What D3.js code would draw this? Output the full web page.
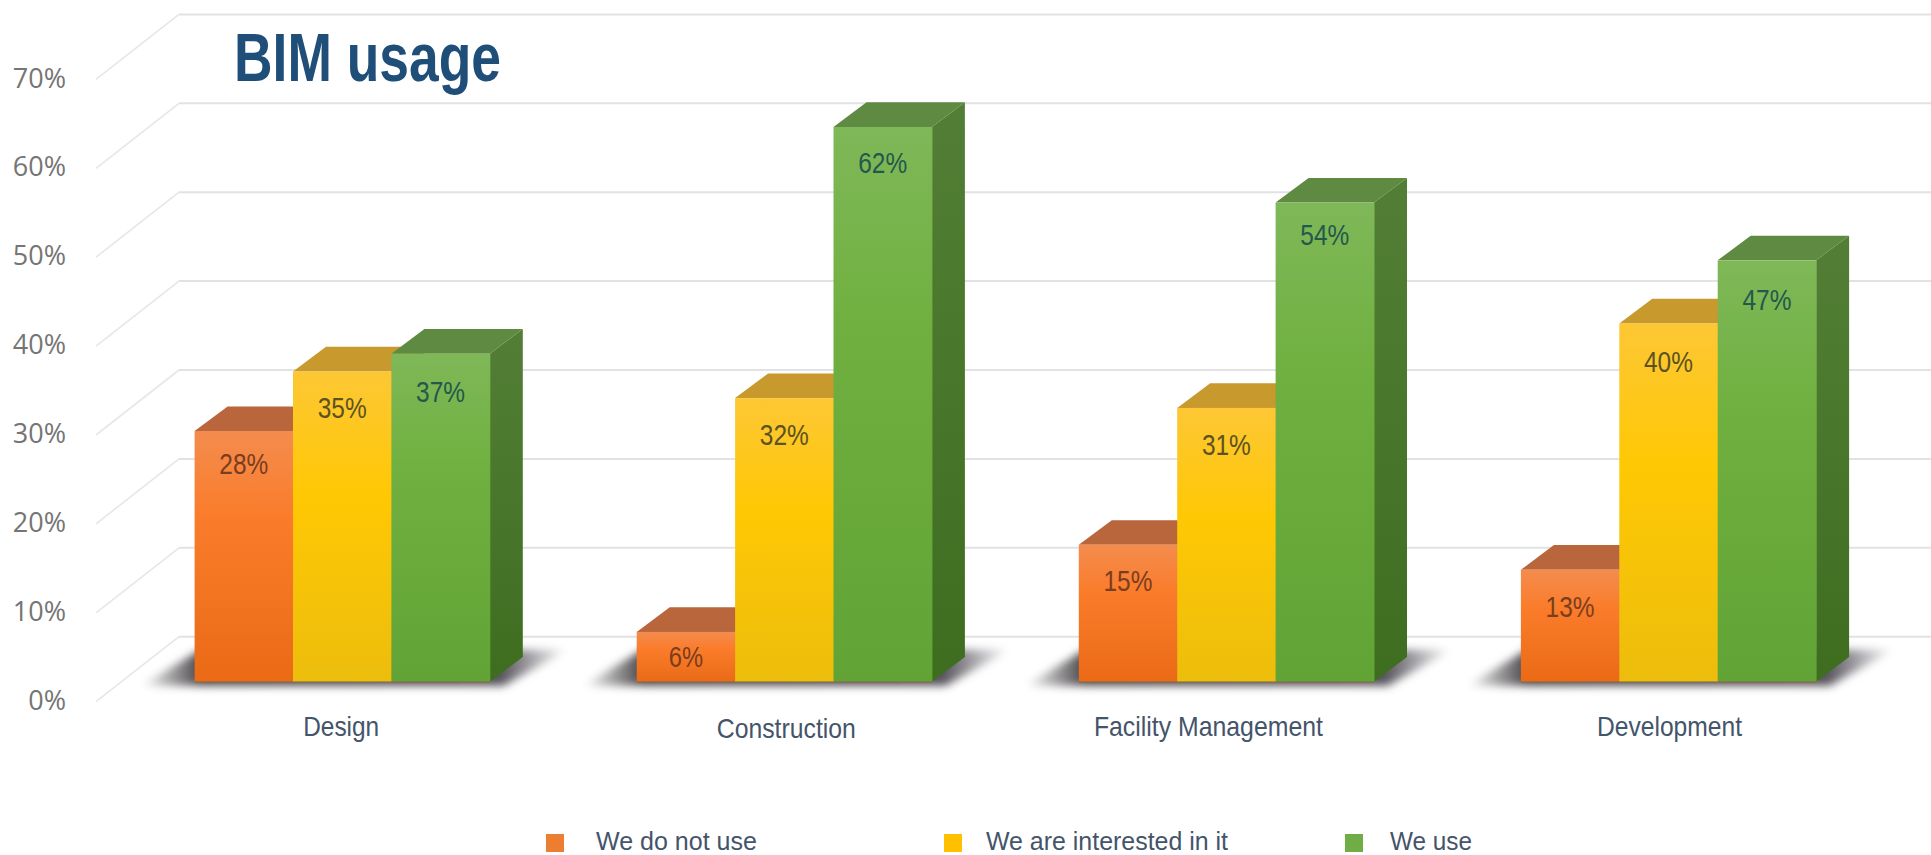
<!DOCTYPE html>
<html><head><meta charset="utf-8">
<script src="https://cdn.jsdelivr.net/npm/d3@7/dist/d3.min.js"></script>
<style>html,body{margin:0;padding:0;background:#fff;overflow:hidden}svg{display:block}</style>
</head><body><svg id="c" width="1931" height="855"></svg>
<script>
const titleText = "BIM usage";
const categories = ["Design","Construction","Facility Management","Development"];
const seriesNames = ["We do not use","We are interested in it","We use"];
const doNotUse = [28.2,5.6,15.4,12.6];
const interested = [34.9,31.9,30.8,40.3];
const weUse = [36.9,62.4,53.9,47.4];
const yTicks = [0,10,20,30,40,50,60,70];

const seriesValues = [doNotUse,interested,weUse];
const NARROW = "'Liberation Sans Narrow','Liberation Sans',sans-serif";
const SANS = "'Open Sans','Liberation Sans',sans-serif";
const svg = d3.select("#c");
const defs = svg.append("defs");

const base = 681.7, unit = 8.89, depthX = 33, depthY = 24.6;
const y = d3.scaleLinear().domain([0,70]).range([base, base-70*unit]);
const wallShift = 45, tickShift = 20, wallX = 179, slantX = 96;
const step = 442.1, bw = 295.2, pad = 1-bw/step;
const x0 = d3.scaleBand().domain(categories).range([194.6-pad*step/2, 194.6-pad*step/2+4*step]).paddingInner(pad).paddingOuter(pad/2);
const x1 = d3.scaleBand().domain(d3.range(3)).range([0,x0.bandwidth()]);

// colour ramps
const frontStops = [
 [["0","#f48c4e"],["0.35","#fa7c2a"],["1","#ea6a16"]],
 [["0","#fdc735"],["0.4","#ffc804"],["1","#ecbd0c"]],
 [["0","#7fb858"],["0.35","#70b040"],["1","#61a335"]]];
const topFill = ["#b9663c","#c8992c","#5e8a42"];
const sideStops = [[["0","#a9521f"],["1","#a9521f"]],[["0","#b88e14"],["1","#b88e14"]],[["0","#527f35"],["1","#3e6d20"]]];
function grad(id,stops){
  const g = defs.append("linearGradient").attr("id",id).attr("x1",0).attr("y1",0).attr("x2",0).attr("y2",1);
  stops.forEach(s=>g.append("stop").attr("offset",s[0]).attr("stop-color",s[1]));
}
frontStops.forEach((s,i)=>grad("front"+i,s));
sideStops.forEach((s,i)=>grad("side"+i,s));
const sg = defs.append("linearGradient").attr("id","shadowGrad").attr("x1",0).attr("x2",1).attr("y1",0).attr("y2",0);
[["0","#fff"],["0.14","#4a474a"],["0.84","#55525a"],["1","#fff"]].forEach(s=>sg.append("stop").attr("offset",s[0]).attr("stop-color",s[1]));
defs.append("filter").attr("id","blur").attr("x","-5%").attr("y","-30%").attr("width","110%").attr("height","160%")
  .append("feGaussianBlur").attr("stdDeviation",4);

// wall grid and slanted floor/side lines
const grid = svg.append("g");
grid.selectAll("line.h").data(yTicks).join("line").attr("class","h")
  .attr("x1",wallX).attr("x2",1931)
  .attr("y1",d=>y(d)-wallShift).attr("y2",d=>y(d)-wallShift)
  .attr("stroke","#e1e2e4").attr("stroke-width",2);
grid.selectAll("line.s").data(yTicks).join("line").attr("class","s")
  .attr("x1",slantX).attr("x2",wallX)
  .attr("y1",d=>y(d)+tickShift).attr("y2",d=>y(d)-wallShift)
  .attr("stroke","#e6e7e9").attr("stroke-width",1.6);

// y axis
const yAxis = svg.append("g").attr("transform",`translate(66,${tickShift-1})`)
  .call(d3.axisLeft(y).tickValues(yTicks).tickFormat(d=>d+"%").tickSize(0).tickPadding(0));
yAxis.select(".domain").remove();
yAxis.selectAll("text").attr("font-family",SANS).attr("font-size",27).attr("fill","#757575");

// groups
const groups = svg.selectAll("g.grp").data(categories).join("g").attr("class","grp")
  .attr("transform",d=>`translate(${x0(d)},0)`);
// floor shadows
groups.append("path")
  .attr("d",()=>{const b=x0.bandwidth();return `M-54,${base+4}L6,${base-32}H${b+78}L${b+14},${base+4}Z`;})
  .attr("fill","url(#shadowGrad)").attr("filter","url(#blur)");

const bars = groups.selectAll("g.bar").data((c,ci)=>seriesValues.map((v,si)=>({si,ci,v:v[ci]}))).join("g").attr("class","bar");
const w = x1.bandwidth();
bars.append("path").attr("fill",d=>topFill[d.si])
  .attr("d",d=>{const X=x1(d.si),T=y(d.v);return `M${X},${T}L${X+depthX},${T-depthY}H${X+w+depthX}L${X+w},${T}Z`;});
bars.append("path").attr("fill",d=>`url(#side${d.si})`)
  .attr("d",d=>{const X=x1(d.si)+w,T=y(d.v);return `M${X},${T}L${X+depthX},${T-depthY}V${base-depthY}L${X},${base}Z`;});
bars.append("rect").attr("x",d=>x1(d.si)).attr("width",w+0.5).attr("y",d=>y(d.v)).attr("height",d=>base-y(d.v))
  .attr("fill",d=>`url(#front${d.si})`);
groups.append("line").attr("x1",0).attr("x2",x0.bandwidth()).attr("y1",base+0.5).attr("y2",base+0.5)
  .attr("stroke","#8a6a45").attr("stroke-width",1.5).attr("opacity",0.7);

// data labels
const labelColor = ["#7b3d1e","#5c5222","#24584c"];
const labelDrop = [[33,25,36,37],[37,37,37,39],[38,36,32,40]];
const labelWide = 49;
bars.append("text").attr("text-anchor","middle")
  .attr("x",d=>x1(d.si)+w/2)
  .attr("y",d=>y(d.v)+labelDrop[d.si][d.ci]+10)
  .attr("font-family",NARROW).attr("font-size",29).attr("fill",d=>labelColor[d.si])
  .attr("textLength",d=>Math.round(d.v)<10?labelWide*0.7:labelWide).attr("lengthAdjust","spacingAndGlyphs")
  .text(d=>Math.round(d.v)+"%");

// category axis
const labelWidth = [76,139,229,145], labelNudgeX = [-1,2,-18,1], labelNudgeY = [0,2,0,0];
const xAxis = svg.append("g").attr("transform",`translate(0,${base})`)
  .call(d3.axisBottom(x0).tickSize(0).tickPadding(0));
xAxis.select(".domain").remove();
xAxis.selectAll("text").attr("font-family",NARROW).attr("font-size",28).attr("fill","#44546a")
  .attr("dy",0)
  .attr("x",(d,i)=>labelNudgeX[i])
  .attr("y",(d,i)=>54+labelNudgeY[i])
  .attr("textLength",(d,i)=>labelWidth[i]).attr("lengthAdjust","spacingAndGlyphs");

// title
svg.append("text").attr("x",234).attr("y",81).text(titleText)
  .attr("font-family",NARROW).attr("font-weight",700).attr("font-size",68).attr("fill","#1f4e79")
  .attr("textLength",267).attr("lengthAdjust","spacingAndGlyphs");

// legend
const legendSwatchX = [546,944,1345], legendTextX = [596,986,1390], legendTextW = [161,242,82];
const legendFill = ["#ed7d31","#ffc000","#70ad47"];
const lg = svg.selectAll("g.lg").data(seriesNames).join("g").attr("class","lg");
lg.append("rect").attr("x",(d,i)=>legendSwatchX[i]).attr("y",834).attr("width",18).attr("height",18).attr("fill",(d,i)=>legendFill[i]);
lg.append("text").attr("x",(d,i)=>legendTextX[i]).attr("y",849.5).text(d=>d)
  .attr("font-family",NARROW).attr("font-size",25).attr("fill","#44546a")
  .attr("textLength",(d,i)=>legendTextW[i]).attr("lengthAdjust","spacingAndGlyphs");
</script></body></html>
